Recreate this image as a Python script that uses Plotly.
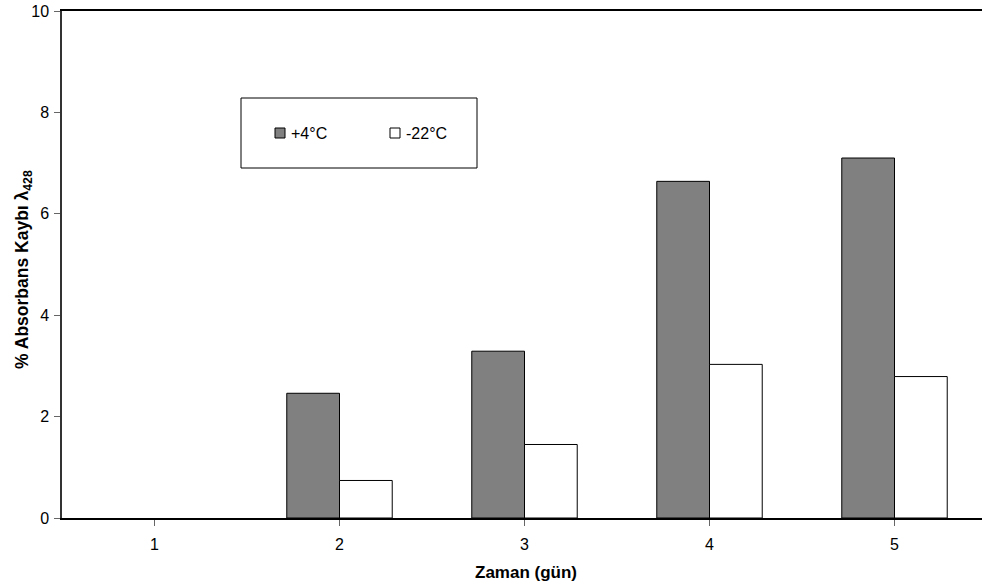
import plotly.graph_objects as go

# Storage days and percent absorbance loss at 428 nm
days = [1, 2, 3, 4, 5]
loss_plus4 = [0.0, 2.46, 3.29, 6.64, 7.10]
loss_minus22 = [0.0, 0.74, 1.45, 3.03, 2.79]
series_names = ["+4°C", "-22°C"]
series_colors = ["#808080", "#ffffff"]
y_ticks = [0, 2, 4, 6, 8, 10]

FONT = "Arial, 'Liberation Sans', sans-serif"
W, H = 982, 584
L, R, T, B = 62, 0, 11, 66
plot_w = W - L - R
plot_h = H - T - B
cat_px = 185.0  # width of one day category in pixels


def px_x(p):
    return (p - L) / plot_w


def px_y(p):
    return (H - B - p) / plot_h


def outline_widths(vals):
    # no outline on empty (zero-height) bars
    return [0 if v == 0 else 1 for v in vals]


fig = go.Figure()
for name, vals, col in zip(series_names, [loss_plus4, loss_minus22], series_colors):
    fig.add_trace(go.Bar(
        x=days, y=vals, name=name, showlegend=False,
        marker=dict(color=col, line=dict(color="#000000", width=outline_widths(vals))),
    ))

# legend: frame, swatches and labels
fig.add_shape(type="rect", xref="paper", yref="paper",
              x0=px_x(241), x1=px_x(477), y0=px_y(168), y1=px_y(98),
              line=dict(color="#000000", width=1), fillcolor="rgba(0,0,0,0)",
              layer="above")
for (sx, tx), name, col in zip([(275, 289), (390, 404)], series_names, series_colors):
    fig.add_shape(type="rect", xref="paper", yref="paper",
                  x0=px_x(sx), x1=px_x(sx + 10), y0=px_y(138), y1=px_y(128),
                  line=dict(color="#000000", width=1), fillcolor=col, layer="above")
    fig.add_annotation(
        xref="paper", yref="paper", x=px_x(tx), y=px_y(133),
        text=name, showarrow=False, xanchor="left", yanchor="middle",
        font=dict(family=FONT, size=16, color="#000000"),
    )

# rotated y-axis title with subscript
fig.add_annotation(
    xref="paper", yref="paper", x=px_x(23), y=px_y(270),
    text="<b>% Absorbans Kaybı λ<sub>428</sub></b>", textangle=-90,
    showarrow=False, xanchor="center", yanchor="middle",
    font=dict(family=FONT, size=17.5, color="#000000"),
)
# x-axis title, centred on the full category span
fig.add_annotation(
    xref="paper", yref="paper", x=px_x(526), y=px_y(572),
    text="<b>Zaman (gün)</b>", showarrow=False,
    xanchor="center", yanchor="middle",
    font=dict(family=FONT, size=17, color="#000000"),
)

fig.update_layout(
    width=W, height=H,
    margin=dict(l=L, r=R, t=T, b=B, pad=0),
    paper_bgcolor="#ffffff", plot_bgcolor="#ffffff",
    font=dict(family=FONT, size=16, color="#000000"),
    barmode="group", bargap=0.43, bargroupgap=0.0,
    showlegend=False,
    xaxis=dict(
        range=[0.5, 0.5 + plot_w / cat_px],
        tickmode="array", tickvals=days, ticktext=[str(d) for d in days],
        tickson="boundaries", ticks="outside", ticklen=6, tickwidth=1,
        tickcolor="#666666", ticklabelstandoff=5,
        showline=True, linecolor="#000000", linewidth=1.5, mirror=True,
        showgrid=False, zeroline=False,
        tickfont=dict(family=FONT, size=16, color="#000000"),
    ),
    yaxis=dict(
        range=[0, 10], tickmode="array", tickvals=y_ticks,
        ticks="outside", ticklen=6, tickwidth=1, tickcolor="#666666",
        ticklabelstandoff=2,
        showline=True, linecolor="#333333", linewidth=1.5,
        showgrid=False, zeroline=False,
        tickfont=dict(family=FONT, size=16, color="#000000"),
    ),
)

fig.write_html("out.html")
